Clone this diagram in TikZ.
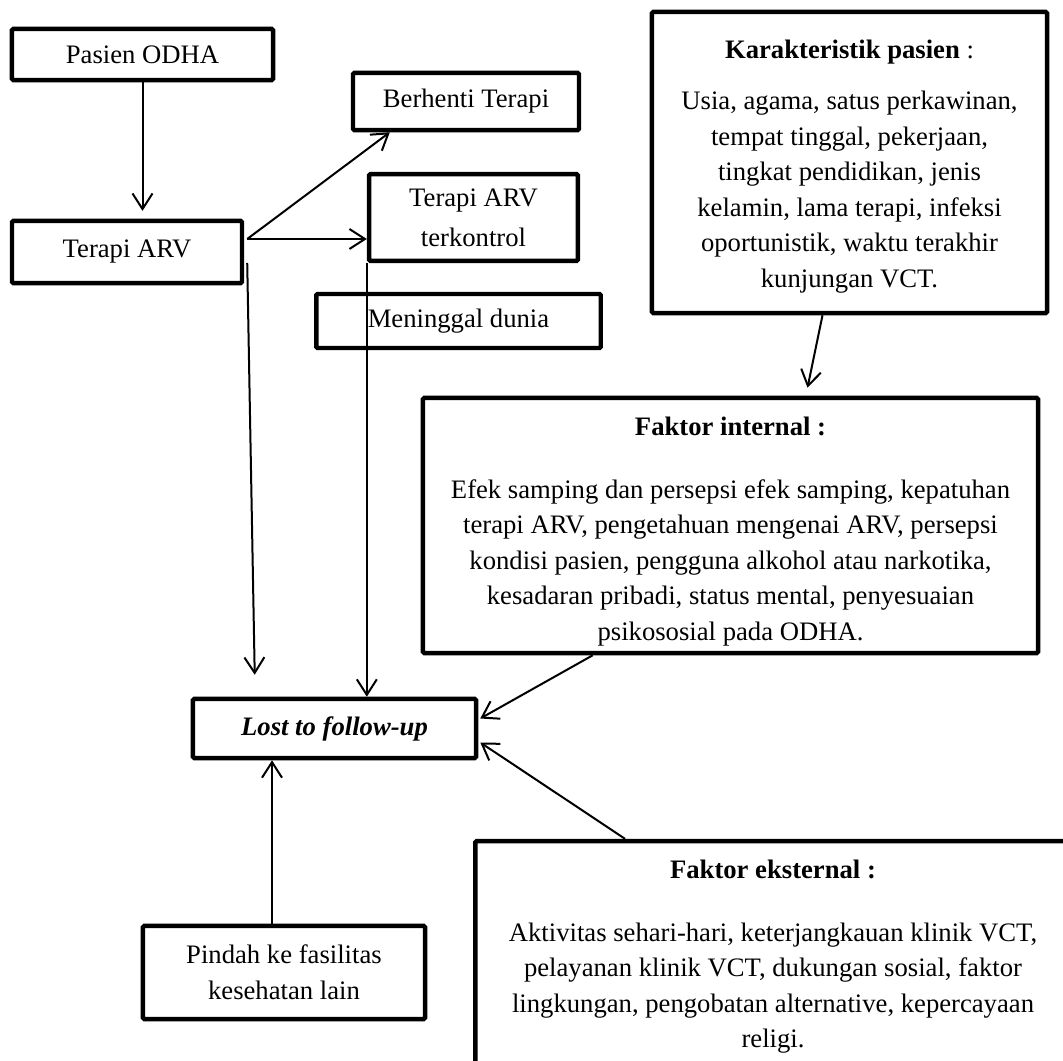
\documentclass[tikz,border=0pt]{standalone}
\usepackage{fontspec}
\setmainfont{Liberation Serif}
\usetikzlibrary{arrows.meta,calc}

\begin{document}
\begin{tikzpicture}[x=0.45pt,y=-0.45pt,
  box/.style={draw,line width=2pt,rounded corners=0.6pt,inner sep=0pt,align=center,
    font=\fontsize{12}{16}\selectfont},
  flow/.style={-{Straight Barb[length=7pt,width=9pt]},line width=0.9pt}]
  \useasboundingbox (0,0) rectangle (1063,1061);
  % Left column: patient path
  \node[box,minimum width=117.5pt,minimum height=23pt] (pasien) at (142.5,54.5) {Pasien ODHA};
  \node[box,minimum width=103.5pt,minimum height=28pt] (terapi) at (127,252) {Terapi ARV};
  \node[box,minimum width=127.4pt,minimum height=26.6pt] (lost) at (334.5,728.5) {\textbf{\textit{Lost to follow-up}}};
  \node[box,minimum width=127pt,minimum height=41.9pt] (pindah) at (284,972.5) {Pindah ke fasilitas\\kesehatan lain};
  % Middle column: outcomes of therapy
  \node[box,minimum width=101.7pt,minimum height=25.7pt] (berhenti) at (466,101.5) {Berhenti Terapi};
  \node[box,minimum width=94pt,minimum height=39pt] (terkontrol) at (473.5,217.5) {Terapi ARV\\[2pt]terkontrol};
  \node[box,minimum width=128pt,minimum height=24.3pt] (meninggal) at (458.5,321) {Meninggal dunia};
  % Right column: factors
  \node[box,minimum width=177.8pt,minimum height=135.5pt] (karak) at (849.5,162.5)
    {\rule{0pt}{12pt}\textbf{Karakteristik pasien} :\\[7pt]
     Usia, agama, satus perkawinan,\\
     tempat tinggal, pekerjaan,\\
     tingkat pendidikan, jenis\\
     kelamin, lama terapi, infeksi\\
     oportunistik, waktu terakhir\\
     kunjungan VCT.};
  \node[box,minimum width=276.8pt,minimum height=114.8pt] (internal) at (730.5,525.5)
    {\rule{0pt}{14pt}\textbf{Faktor internal :}\\[12pt]
     Efek samping dan persepsi efek samping, kepatuhan\\
     terapi ARV, pengetahuan mengenai ARV, persepsi\\
     kondisi pasien, pengguna alkohol atau narkotika,\\
     kesadaran pribadi, status mental, penyesuaian\\
     psikososial pada ODHA.};
  % External factors box runs off the page
  \begin{scope}
    \clip (0,0) rectangle (1063,1061);
    \node[box,minimum width=281pt,minimum height=116.5pt] (ekst) at (787.5,970.5) {};
  \end{scope}
  \node[align=center,inner sep=0pt,font=\fontsize{12}{16}\selectfont] (eksttext) at (773,957)
    {\textbf{Faktor eksternal :}\\[12pt]
     Aktivitas sehari-hari, keterjangkauan klinik VCT,\\
     pelayanan klinik VCT, dukungan sosial, faktor\\
     lingkungan, pengobatan alternative, kepercayaan\\
     religi.};
  % Arrows
  \coordinate (split) at ($(terapi.east)+(3,-13)$);
  \coordinate (move) at ($(pindah.north)+(-12,0)$);
  \draw[flow,shorten >=3.5pt] (pasien.south) -- (pasien.south |- terapi.north);
  \draw[flow] (split) -- (berhenti.202);
  \draw[flow] (split) -- (split -| terkontrol.west);
  \draw[flow] ($(terapi.east)+(3,11)$) -- ($(lost.north west)+(64,-22)$);
  \draw[flow] (terkontrol.south west) -- (terkontrol.south west |- lost.north);
  \draw[flow] ($(karak.south)+(-27,0)$) -- ($(internal.north)+(77,-8)$);
  \draw[flow] ($(internal.south west)+(172,0)$) -- ($(lost.east)+(2,-10)$);
  \draw[flow] ($(ekst.north west)+(152,0)$) -- ($(lost.east)+(2,14)$);
  \draw[flow] (move) -- (move |- lost.south);
\end{tikzpicture}
\end{document}
